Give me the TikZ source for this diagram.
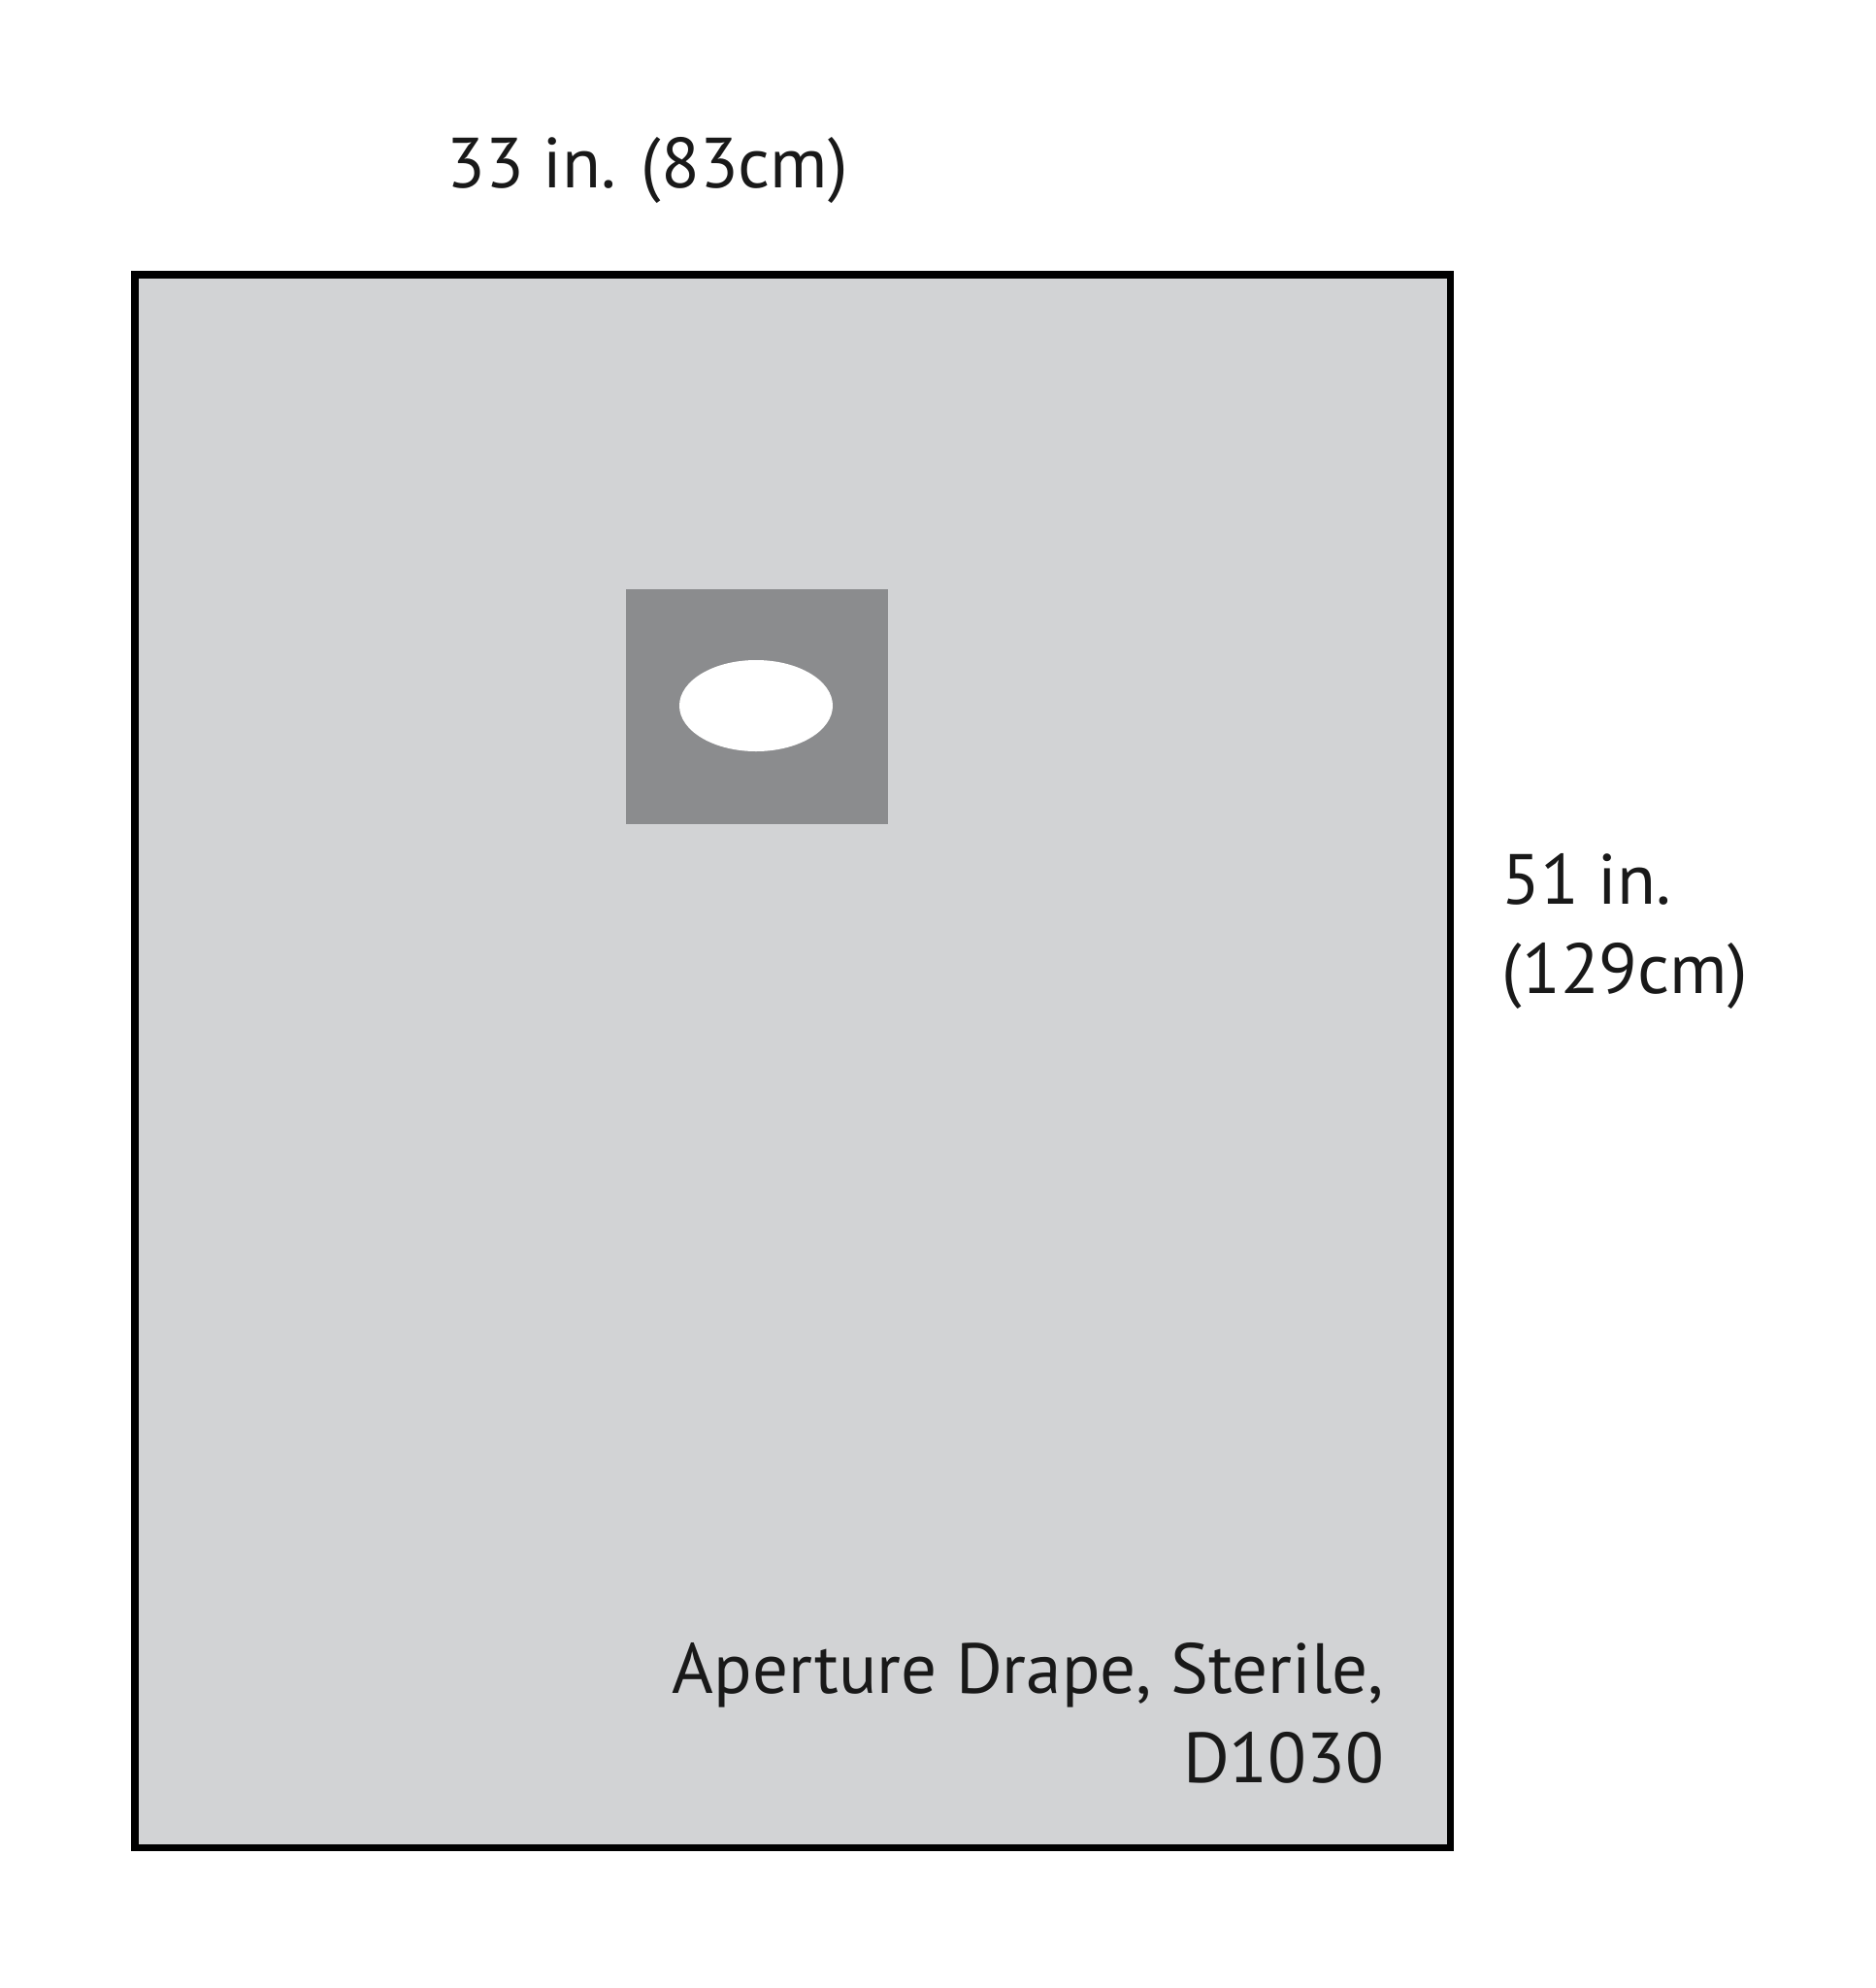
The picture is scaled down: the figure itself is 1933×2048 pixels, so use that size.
\documentclass[tikz,border=0pt]{standalone}
\usepackage{fontspec}
\setmainfont{PT Sans}
\definecolor{drapegray}{HTML}{D2D3D5}
\definecolor{patchgray}{HTML}{8B8C8E}

\begin{document}
\begin{tikzpicture}[x=0.01cm, y=-0.01cm,
    every node/.style={inner sep=0pt, text=black!90, font=\fontsize{20.8}{26}\selectfont}]
    \useasboundingbox (0,0) rectangle (1933,2048);
    % Drape
    \draw[line width=2pt, fill=drapegray] (139,283) rectangle (1494,1903);
    % Aperture patch
    \fill[patchgray] (645,607) rectangle (915,849);
    \fill[white] (779,727) ellipse [x radius=79, y radius=47];
    % Labels
    \node[anchor=base] (width) at (667,193) {33 in. (83cm)};
    \node[anchor=base west, align=left] (length) at (1547,1023) {51 in.\\(129cm)};
    \node[anchor=base east, align=right] (name) at (1427,1836) {Aperture Drape, Sterile,\\D1030};
\end{tikzpicture}
\end{document}
